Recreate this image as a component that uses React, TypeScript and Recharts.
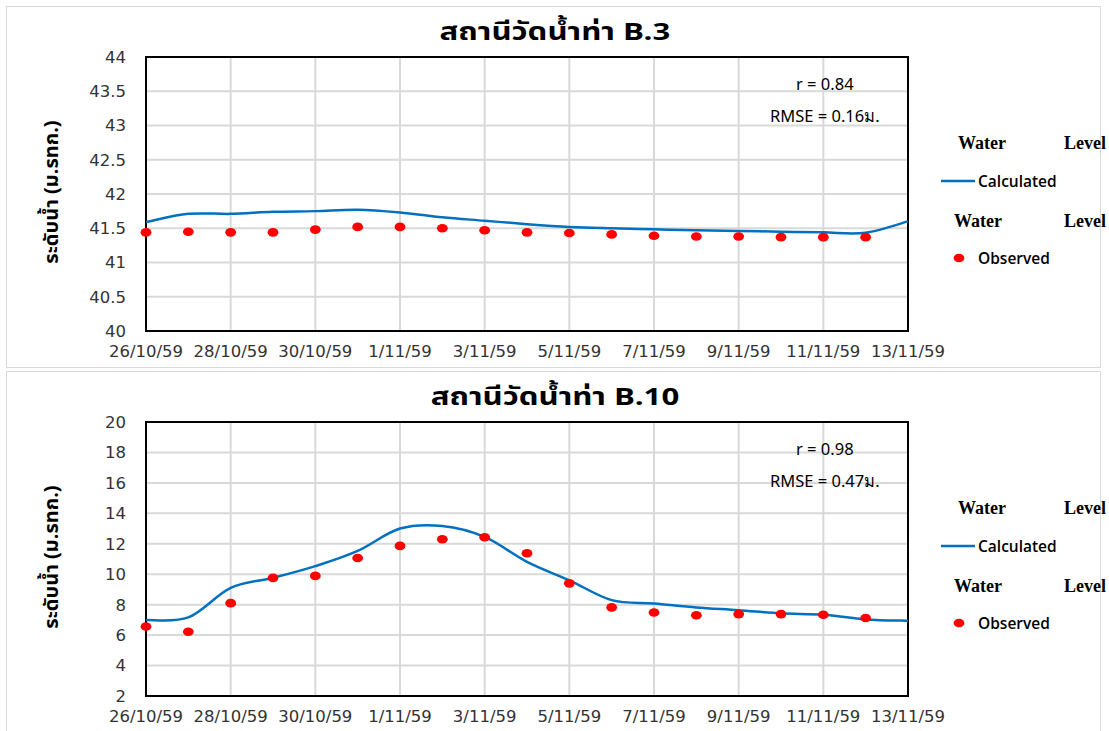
import React from "react";
import {
  CartesianGrid,
  Line,
  LineChart,
  ReferenceArea,
  XAxis,
  YAxis,
} from "recharts";

// one entry per day, 26/10/59 .. 13/11/59
const days = [
  "26/10/59", "27/10/59", "28/10/59", "29/10/59", "30/10/59", "31/10/59",
  "1/11/59", "2/11/59", "3/11/59", "4/11/59", "5/11/59", "6/11/59",
  "7/11/59", "8/11/59", "9/11/59", "10/11/59", "11/11/59", "12/11/59",
  "13/11/59",
];
const xTicks = [0, 2, 4, 6, 8, 10, 12, 14, 16, 18];

const b3Calculated = [
  41.59, 41.71, 41.71, 41.74, 41.75, 41.77, 41.73, 41.66, 41.61, 41.56,
  41.52, 41.5, 41.485, 41.47, 41.46, 41.45, 41.44, 41.435, 41.6,
];
const b3Observed = [
  41.44, 41.45, 41.44, 41.44, 41.48, 41.52, 41.52, 41.5, 41.47, 41.44,
  41.43, 41.41, 41.39, 41.38, 41.38, 41.37, 41.37, 41.37,
];
const b3Ticks = [40, 40.5, 41, 41.5, 42, 42.5, 43, 43.5, 44];

const b10Calculated = [
  6.99, 7.16, 9.1, 9.76, 10.53, 11.53, 13.0, 13.17, 12.45, 10.81,
  9.6, 8.3, 8.08, 7.82, 7.64, 7.43, 7.34, 7.03, 6.94,
];
const b10Observed = [
  6.57, 6.22, 8.1, 9.76, 9.89, 11.07, 11.86, 12.3, 12.43, 11.38,
  9.4, 7.82, 7.49, 7.3, 7.38, 7.38, 7.34, 7.12,
];
const b10Ticks = [2, 4, 6, 8, 10, 12, 14, 16, 18, 20];

const BLUE = "#0070c0";
const RED = "#ff0000";
const TICK_FONT = "'DejaVu Sans', Tahoma, sans-serif";
const THAI_FONT = "Tahoma, 'Noto Sans Thai', 'Noto Sans', sans-serif";

// Excel-style smoothed line (Catmull-Rom through the points)
function excelSmooth(context: any) {
  let pts: number[][] = [];
  return {
    areaStart() {},
    areaEnd() {},
    lineStart() {
      pts = [];
    },
    point(x: number, y: number) {
      pts.push([+x, +y]);
    },
    lineEnd() {
      if (!pts.length) return;
      context.moveTo(pts[0][0], pts[0][1]);
      for (let i = 0; i < pts.length - 1; i++) {
        const p0 = pts[i - 1] || pts[i];
        const p1 = pts[i];
        const p2 = pts[i + 1];
        const p3 = pts[i + 2] || p2;
        context.bezierCurveTo(
          p1[0] + (p2[0] - p0[0]) / 6,
          p1[1] + (p2[1] - p0[1]) / 6,
          p2[0] - (p3[0] - p1[0]) / 6,
          p2[1] - (p3[1] - p1[1]) / 6,
          p2[0],
          p2[1]
        );
      }
    },
  };
}

const renderDot = (props: any) => {
  const { cx, cy, index } = props;
  if (cy == null || cx == null) return <g key={`n${index}`} />;
  return <ellipse key={`d${index}`} cx={cx} cy={cy} rx={5.4} ry={4.3} fill={RED} />;
};

const renderYLabel = (props: any) => {
  const vb = props.viewBox || {};
  const cx = 52;
  const cy = (vb.y ?? 57) + (vb.height ?? 274) / 2 - 2;
  return (
    <text
      x={cx}
      y={cy}
      transform={`rotate(-90, ${cx}, ${cy})`}
      textAnchor="middle"
      dominantBaseline="central"
      fontFamily={THAI_FONT}
      fontWeight="bold"
      fontSize={20}
      fill="#000"
    >
      ระดับน้ำ (ม.รทก.)
    </text>
  );
};

type PanelProps = {
  top: number;
  title: string;
  calculated: number[];
  observed: number[];
  yTicks: number[];
  r: string;
  rmse: string;
};

function Panel({ top, title, calculated, observed, yTicks, r, rmse }: PanelProps) {
  const data = days.map((d, i) => ({
    x: i,
    day: d,
    calc: calculated[i],
    obs: observed[i] ?? null,
  }));
  const yMin = yTicks[0];
  const yMax = yTicks[yTicks.length - 1];
  const legendText: React.CSSProperties = {
    position: "absolute",
    fontFamily: "'Liberation Serif', 'Times New Roman', serif",
    fontWeight: "bold",
    fontSize: 18,
    lineHeight: "20px",
  };
  const seriesText: React.CSSProperties = {
    position: "absolute",
    fontFamily: "'Open Sans', 'Noto Sans', sans-serif",
    fontWeight: 600,
    fontSize: 15.5,
    lineHeight: "20px",
  };
  const noteText: React.CSSProperties = {
    position: "absolute",
    fontFamily: "'Noto Sans', sans-serif",
    fontSize: 16.5,
    lineHeight: "20px",
  };
  return (
    <div style={{ position: "absolute", left: 0, top, width: 1109, height: 368 }}>
      <div
        style={{
          position: "absolute",
          left: 6,
          top: 6,
          width: 1095,
          height: 362,
          border: "1px solid #d9d9d9",
          boxSizing: "border-box",
        }}
      />
      <div style={{ position: "absolute", left: 0, top: 0 }}>
        <LineChart
          width={1109}
          height={368}
          data={data}
          margin={{ top: 57, right: 201, bottom: 0, left: 0 }}
        >
          <CartesianGrid stroke="#d9d9d9" strokeWidth={2} />
          <XAxis
            dataKey="x"
            type="number"
            domain={[0, 18]}
            ticks={xTicks}
            tickFormatter={(v: number) => days[v]}
            height={37}
            axisLine={false}
            tickLine={false}
            tickSize={0}
            tickMargin={14}
            interval={0}
            tick={{ fontSize: 16.5, fill: "#333", fontFamily: TICK_FONT }}
          />
          <YAxis
            type="number"
            domain={[yMin, yMax]}
            ticks={yTicks}
            width={146}
            axisLine={false}
            tickLine={false}
            tickSize={0}
            tickMargin={20}
            interval={0}
            tick={{ fontSize: 16.5, fill: "#333", fontFamily: TICK_FONT }}
            label={{ content: renderYLabel }}
          />
          <ReferenceArea
            x1={0}
            x2={18}
            y1={yMin}
            y2={yMax}
            fill="none"
            fillOpacity={0}
            stroke="#000"
            strokeWidth={2}
          />
          <Line
            dataKey="calc"
            type={excelSmooth as any}
            stroke={BLUE}
            strokeWidth={2.5}
            dot={false}
            activeDot={false}
            isAnimationActive={false}
          />
          <Line
            dataKey="obs"
            stroke="none"
            dot={renderDot}
            activeDot={false}
            isAnimationActive={false}
          />
        </LineChart>
      </div>
      <div
        style={{
          position: "absolute",
          left: 0,
          width: 1109,
          top: 19,
          textAlign: "center",
          fontFamily: THAI_FONT,
          fontWeight: "bold",
          fontSize: 24,
          lineHeight: "28px",
          transform: "scaleX(1.3)",
          transformOrigin: "553px 0",
        }}
      >
        {title}
      </div>
      <div style={{ ...noteText, left: 796, top: 74 }}>{r}</div>
      <div style={{ ...noteText, left: 770, top: 106 }}>{rmse}</div>
      <div style={{ ...legendText, left: 958, top: 133 }}>Water</div>
      <div style={{ ...legendText, left: 1064, top: 133 }}>Level</div>
      <svg style={{ position: "absolute", left: 940, top: 176 }} width={36} height={10}>
        <line x1={1} y1={5} x2={35} y2={5} stroke={BLUE} strokeWidth={2.5} />
      </svg>
      <div style={{ ...seriesText, left: 978, top: 171 }}>Calculated</div>
      <div style={{ ...legendText, left: 954, top: 211 }}>Water</div>
      <div style={{ ...legendText, left: 1064, top: 211 }}>Level</div>
      <svg style={{ position: "absolute", left: 952, top: 252 }} width={14} height={12}>
        <ellipse cx={7} cy={6} rx={5.4} ry={4.3} fill={RED} />
      </svg>
      <div style={{ ...seriesText, left: 978, top: 248 }}>Observed</div>
    </div>
  );
}

export default function App() {
  return (
    <div
      style={{
        position: "absolute",
        left: 0,
        top: 0,
        width: 1109,
        height: 731,
        overflow: "hidden",
        background: "#fff",
      }}
    >
      <Panel
        top={0}
        title="สถานีวัดน้ำท่า B.3"
        calculated={b3Calculated}
        observed={b3Observed}
        yTicks={b3Ticks}
        r="r = 0.84"
        rmse="RMSE = 0.16ม."
      />
      <Panel
        top={365}
        title="สถานีวัดน้ำท่า B.10"
        calculated={b10Calculated}
        observed={b10Observed}
        yTicks={b10Ticks}
        r="r = 0.98"
        rmse="RMSE = 0.47ม."
      />
    </div>
  );
}
